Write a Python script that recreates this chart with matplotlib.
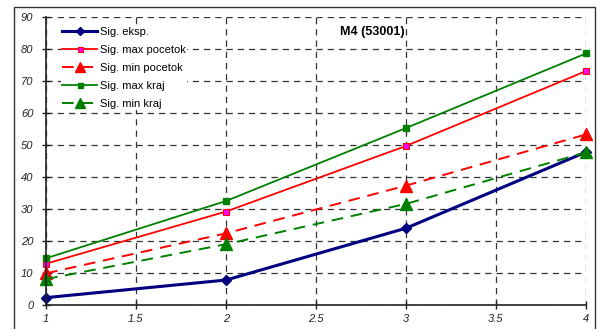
import matplotlib
matplotlib.use("Agg")
import matplotlib.pyplot as plt
from matplotlib.patches import Rectangle

x = [1, 2, 3, 4]
sig_eksp = [2.3, 7.8, 24.0, 47.8]
sig_max_pocetok = [12.9, 29.2, 49.7, 73.1]
sig_min_pocetok = [9.9, 22.4, 37.3, 53.3]
sig_max_kraj = [14.6, 32.5, 55.3, 78.6]
sig_min_kraj = [8.1, 19.0, 31.6, 47.7]

labels = ["Sig. eksp.", "Sig. max pocetok", "Sig. min pocetok",
          "Sig. max kraj", "Sig. min kraj"]
title = "M4 (53001)"
xticks = [1, 1.5, 2, 2.5, 3, 3.5, 4]
xticklabels = ["1", "1.5", "2", "2.5", "3", "3.5", "4"]
yticks = list(range(0, 100, 10))

plt.rcParams['font.family'] = ['Liberation Sans', 'DejaVu Sans']

fig = plt.figure(figsize=(6.01, 3.29), dpi=100)
# outer chart border
fig.patches.append(Rectangle((14 / 601, -0.05), (595 - 14) / 601, 1.05 - 7 / 329,
                             transform=fig.transFigure, fill=False,
                             edgecolor="#333333", linewidth=1.0))
ax = fig.add_axes([46 / 601, 1 - 305 / 329, (586 - 46) / 601, (305 - 17) / 329])

ax.plot(x, sig_eksp, color="#000080", lw=2.2, marker="D", ms=5,
        label=labels[0], clip_on=False)
ax.plot(x, sig_max_pocetok, color="#ff0000", lw=1.3, marker="s", ms=4,
        mfc="#ff00ff", mec="#ff0000", mew=0.8, label=labels[1], clip_on=False)
ax.plot(x, sig_min_pocetok, color="#ff0000", lw=1.4, ls=(0, (6, 4)), marker="^",
        ms=8, label=labels[2], clip_on=False)
ax.plot(x, sig_max_kraj, color="#008000", lw=1.3, marker="s", ms=4,
        label=labels[3], clip_on=False)
ax.plot(x, sig_min_kraj, color="#008000", lw=1.4, ls=(0, (6, 4)), marker="^",
        ms=8, label=labels[4], clip_on=False)

ax.set_xlim(1, 4)
ax.set_ylim(0, 90)
ax.set_xticks(xticks)
ax.set_xticklabels(xticklabels)
ax.set_yticks(yticks)
ax.grid(True, color="#333333", ls=(0, (5, 4)), lw=0.9)
ax.set_axisbelow(True)
for s in ["top", "right"]:
    ax.spines[s].set_visible(False)
for s in ["left", "bottom"]:
    ax.spines[s].set_color("#222222")
    ax.spines[s].set_linewidth(1.2)
ax.tick_params(direction="inout", length=6, width=1, color="#222222",
               labelsize=8, labelcolor="#222222")
for lab in ax.get_xticklabels() + ax.get_yticklabels():
    lab.set_fontstyle("italic")
ax.tick_params(axis="y", pad=6)

ax.text((340 - 46) / 540, (305 - 32) / 288, title, transform=ax.transAxes,
        fontsize=9, fontweight="bold", va="center", ha="left")

leg = ax.legend(loc="upper left", bbox_to_anchor=(0.023, 0.978), frameon=True,
                fontsize=8, handlelength=3.2, handletextpad=0.2,
                labelspacing=0.72, borderaxespad=0.2, borderpad=0.1,
                markerscale=0.9)
leg.get_frame().set_facecolor("white")
leg.get_frame().set_edgecolor("none")
leg.get_frame().set_alpha(1.0)

fig.savefig("out.png", dpi=100)
